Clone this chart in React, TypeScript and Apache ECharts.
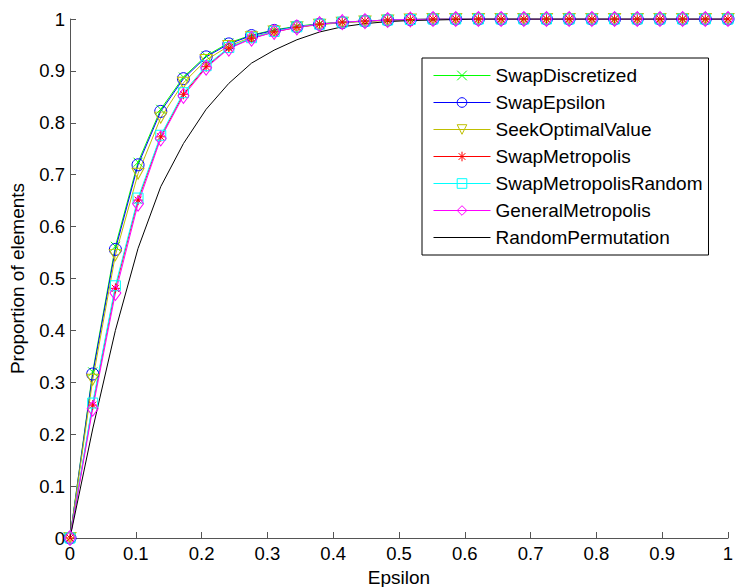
import React, { useEffect, useRef } from "react";
import * as echarts from "echarts";

const epsilon = [
  0, 0.0345, 0.069, 0.1034, 0.1379, 0.1724, 0.2069, 0.2414, 0.2759, 0.3103,
  0.3448, 0.3793, 0.4138, 0.4483, 0.4828, 0.5172, 0.5517, 0.5862, 0.6207, 0.6552,
  0.6897, 0.7241, 0.7586, 0.7931, 0.8276, 0.8621, 0.8966, 0.931, 0.9655, 1,
];

const swapDiscretized = [
  0, 0.32, 0.562, 0.724, 0.826, 0.888, 0.929, 0.954, 0.969, 0.979,
  0.986, 0.991, 0.994, 0.996, 0.998, 0.999, 1, 1, 1, 1,
  1, 1, 1, 1, 1, 1, 1, 1, 1, 1,
];
const swapEpsilon = [
  0, 0.316, 0.556, 0.719, 0.822, 0.885, 0.927, 0.952, 0.968, 0.978,
  0.985, 0.99, 0.993, 0.996, 0.998, 0.999, 1, 1, 1, 1,
  1, 1, 1, 1, 1, 1, 1, 1, 1, 1,
];
const seekOptimalValue = [
  0, 0.305, 0.545, 0.702, 0.81, 0.877, 0.921, 0.948, 0.965, 0.976,
  0.984, 0.989, 0.993, 0.995, 0.997, 0.999, 1, 1, 1, 1,
  1, 1, 1, 1, 1, 1, 1, 1, 1, 1,
];
const swapMetropolis = [
  0, 0.256, 0.481, 0.651, 0.773, 0.855, 0.908, 0.944, 0.963, 0.975,
  0.984, 0.99, 0.994, 0.996, 0.998, 0.999, 1, 1, 1, 1,
  1, 1, 1, 1, 1, 1, 1, 1, 1, 1,
];
const swapMetropolisRandom = [
  0, 0.26, 0.486, 0.655, 0.776, 0.858, 0.91, 0.945, 0.964, 0.976,
  0.985, 0.99, 0.994, 0.996, 0.998, 0.999, 1, 1, 1, 1,
  1, 1, 1, 1, 1, 1, 1, 1, 1, 1,
];
const generalMetropolis = [
  0, 0.249, 0.472, 0.644, 0.77, 0.852, 0.906, 0.943, 0.962, 0.975,
  0.984, 0.99, 0.994, 0.996, 0.998, 0.999, 1, 1, 1, 1,
  1, 1, 1, 1, 1, 1, 1, 1, 1, 1,
];
const randomPermutation = [
  0, 0.21, 0.4, 0.558, 0.677, 0.76, 0.826, 0.876, 0.915, 0.94,
  0.96, 0.975, 0.985, 0.991, 0.995, 0.997, 0.998, 0.999, 1, 1,
  1, 1, 1, 1, 1, 1, 1, 1, 1, 1,
];

const seriesNames = [
  "SwapDiscretized",
  "SwapEpsilon",
  "SeekOptimalValue",
  "SwapMetropolis",
  "SwapMetropolisRandom",
  "GeneralMetropolis",
  "RandomPermutation",
];

const FONT = "'Liberation Sans', Arial, Helvetica, sans-serif";

export default function App() {
  const ref = useRef<HTMLDivElement>(null);
  useEffect(() => {
    if (!ref.current) return;
    const chart = echarts.init(ref.current, null, { renderer: "svg" });
    const pair = (ys: number[]) => epsilon.map((x, i) => [x, ys[i]]);
    const mk = (
      name: string,
      ys: number[],
      color: string,
      symbol: string,
      size: number | number[]
    ) => ({
      name,
      type: "line",
      data: pair(ys),
      symbol,
      symbolSize: size,
      showSymbol: true,
      lineStyle: { color, width: 1 },
      itemStyle: {
        color: "none",
        borderColor: color,
        borderWidth: 1,
      },
      emphasis: { disabled: true },
    });
    const legendData: any[] = seriesNames.map((n, i) =>
      i === 6
        ? { name: n, itemStyle: { color: "none", borderColor: "none", opacity: 0 } }
        : { name: n }
    );
    const option: any = {
      animation: false,
      backgroundColor: "#ffffff",
      textStyle: { fontFamily: FONT },
      grid: {
        left: 70,
        right: 7,
        top: 19,
        bottom: 49,
        containLabel: false,
        outerBoundsMode: "none",
      },
      legend: {
        orient: "vertical",
        left: 422,
        top: 58,
        padding: [8, 6, 8, 11],
        itemWidth: 57,
        itemHeight: 12,
        itemGap: 8,
        lineStyle: { width: 1 },
        itemStyle: { borderWidth: 1 },
        backgroundColor: "#ffffff",
        borderColor: "#000000",
        borderWidth: 1,
        borderRadius: 0,
        textStyle: { fontSize: 19, color: "#000", fontFamily: FONT },
        data: legendData,
      },
      xAxis: {
        type: "value",
        min: 0,
        max: 1,
        interval: 0.1,
        name: "Epsilon",
        nameLocation: "middle",
        nameGap: 28,
        nameTextStyle: { fontSize: 19, color: "#000", fontFamily: FONT },
        axisLine: { show: true, lineStyle: { color: "#555", width: 1 } },
        axisTick: { show: true, inside: true, length: 6, lineStyle: { color: "#555" } },
        axisLabel: {
          fontSize: 18.5,
          color: "#000",
          margin: 6,
          fontFamily: FONT,
          formatter: (v: number) => String(+v.toFixed(1)),
        },
        splitLine: { show: false },
      },
      yAxis: {
        type: "value",
        min: 0,
        max: 1,
        interval: 0.1,
        name: "Proportion of elements",
        nameLocation: "middle",
        nameGap: 43,
        nameRotate: 90,
        nameTextStyle: { fontSize: 19, color: "#000", fontFamily: FONT },
        axisLine: { show: true, lineStyle: { color: "#555", width: 1 } },
        axisTick: { show: true, inside: true, length: 6, lineStyle: { color: "#555" } },
        axisLabel: {
          fontSize: 18.5,
          color: "#000",
          margin: 5,
          fontFamily: FONT,
          formatter: (v: number) => String(+v.toFixed(1)),
        },
        splitLine: { show: false },
      },
      series: [
        mk(seriesNames[0], swapDiscretized, "#00ff00", "path://M0,0L10,10M10,0L0,10", 9),
        mk(seriesNames[1], swapEpsilon, "#0000ff", "circle", 12),
        mk(seriesNames[2], seekOptimalValue, "#bfbf00", "path://M0,0L10,0L5,9Z", [12, 11]),
        mk(
          seriesNames[3],
          swapMetropolis,
          "#ff0000",
          "path://M5,0L5,10M0,5L10,5M1.5,1.5L8.5,8.5M8.5,1.5L1.5,8.5",
          10
        ),
        mk(seriesNames[4], swapMetropolisRandom, "#00ffff", "rect", 10),
        mk(seriesNames[5], generalMetropolis, "#ff00ff", "diamond", [11, 15]),
        {
          name: seriesNames[6],
          type: "line",
          data: pair(randomPermutation),
          symbol: "none",
          showSymbol: false,
          lineStyle: { color: "#000000", width: 1 },
          itemStyle: { color: "#000000" },
          emphasis: { disabled: true },
        },
      ],
    };
    chart.setOption(option);
    return () => chart.dispose();
  }, []);
  return (
    <div
      ref={ref}
      style={{ position: "fixed", left: 0, top: 0, width: 735, height: 587, background: "#fff" }}
    />
  );
}
